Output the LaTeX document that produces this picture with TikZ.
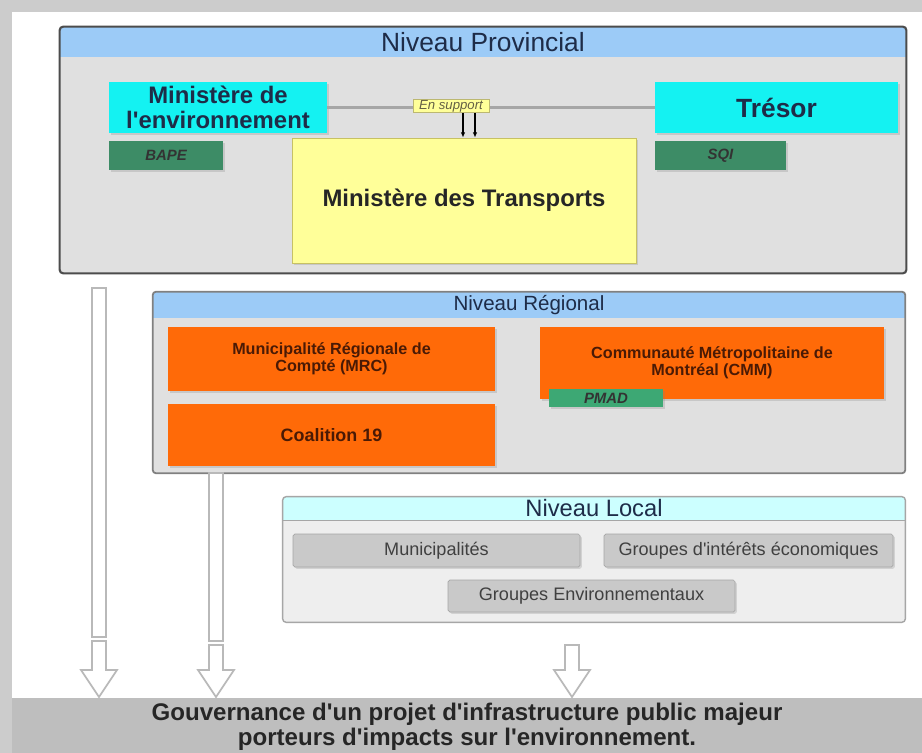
\documentclass[tikz,border=0pt]{standalone}
\usepackage{fontspec}
\setmainfont{Liberation Sans}[Ligatures=TeXOff]
\usepackage{tikz}
\usetikzlibrary{arrows.meta,shadows}

\definecolor{headblue}{HTML}{9CCBF7}
\definecolor{headcyan}{HTML}{CCFFFF}
\definecolor{bodygray}{HTML}{E0E0E0}
\definecolor{bodylight}{HTML}{EEEEEE}
\definecolor{cyanbox}{HTML}{14F2F2}
\definecolor{greenbox}{HTML}{3D8C66}
\definecolor{greenpmad}{HTML}{3DA874}
\definecolor{yellowbox}{HTML}{FFFF99}
\definecolor{orangebox}{HTML}{FF6A08}
\definecolor{graybox}{HTML}{C9C9C9}
\definecolor{bandgray}{HTML}{BEBEBE}
\definecolor{navytext}{HTML}{1E2C48}
\definecolor{browntext}{HTML}{4A1A05}

\begin{document}
\begin{tikzpicture}[x=0.02cm,y=-0.02cm]
\tikzset{sz/.style 2 args = {minimum width=#1*0.02cm,minimum height=#2*0.02cm}}
\tikzset{panel/.style = {rectangle,inner sep=0pt}}
\tikzset{head/.style = {rectangle,inner sep=0pt,text=navytext}}
\tikzset{rim/.style = {line width=1.2pt,rounded corners=2pt}}
\tikzset{box/.style = {rectangle,inner sep=1pt,align=center,drop shadow={shadow xshift=1pt,shadow yshift=-1pt,opacity=0.25}}}
\tikzset{ministry/.style = {box,fill=cyanbox,text=navytext,font=\bfseries\fontsize{13.6}{14.5}\selectfont}}
\tikzset{agency/.style = {box,fill=greenbox,text=black!80,font=\bfseries\itshape\fontsize{8.5}{9}\selectfont}}
\tikzset{regional/.style = {box,fill=orangebox,text=browntext,font=\bfseries\fontsize{9.2}{9.6}\selectfont}}
\tikzset{localbox/.style = {box,draw=gray!70,fill=graybox,text=black!75,rounded corners=1pt,font=\fontsize{10.3}{11}\selectfont}}
\tikzset{hollow/.style = {draw=gray!55,fill=white,line width=1pt}}
\tikzset{edge/.style = {-{Latex[length=3pt,width=2.5pt]},black,line width=0.6pt}}
\useasboundingbox (0,0) rectangle (922,753);
% background
\fill[gray!40] (0,0) rectangle (922,753);
\fill[white] (12,12) rectangle (922,753);
% provincial level
\node[panel,fill=bodygray,sz={846}{246}] (prov) at (483,150) {};
\node[head,fill=headblue,sz={846}{30},font=\fontsize{15}{16}\selectfont] (provhead) at (483,42) {Niveau Provincial};
\draw[rim,draw=black!70] (prov.north west) rectangle (prov.south east);
\node[ministry,sz={218}{51}] (env) at (218,107.5) {Ministère de\\l'environnement};
\node[ministry,sz={243}{51},font=\bfseries\fontsize{15}{16}\selectfont] (tresor) at (776.5,107.5) {Trésor};
\node[agency,sz={114}{29}] (bape) at (166,155.5) {BAPE};
\node[agency,sz={131}{29}] (sqi) at (720.5,155.5) {SQI};
\node[box,fill=yellowbox,draw=yellow!50!gray,sz={344}{125},text=black!85,font=\bfseries\fontsize{13.6}{14}\selectfont] (transp) at (464,200.5) {Ministère des Transports};
\draw[gray!70,line width=2pt] (env) -- (tresor);
\node[rectangle,fill=yellowbox,draw=yellow!40!gray,inner sep=0pt,sz={76}{13},text=black!70!yellow,font=\itshape\fontsize{7.5}{8}\selectfont] (support) at (451,106) {En support};
\coordinate (sa) at (463,113);
\coordinate (sb) at (475,113);
\draw[edge] (sa) -- (sa |- transp.north);
\draw[edge] (sb) -- (sb |- transp.north);
% regional level
\node[panel,fill=bodygray,sz={752}{181}] (reg) at (529,382.5) {};
\node[head,fill=headblue,sz={752}{26},font=\fontsize{11.7}{12.5}\selectfont] (reghead) at (529,305) {Niveau Régional};
\draw[rim,draw=black!50,line width=1pt] (reg.north west) rectangle (reg.south east);
\node[regional,sz={327}{64}] (mrc) at (331.5,359) {Municipalité Régionale de\\Compté (MRC)};
\node[regional,sz={327}{62},font=\bfseries\fontsize{10.2}{11}\selectfont] (coal) at (331.5,435) {Coalition 19};
\node[regional,sz={344}{72}] (cmm) at (712,363) {Communauté Métropolitaine de\\Montréal (CMM)};
\node[agency,fill=greenpmad,sz={114}{18},inner sep=0pt] (pmad) at (606,398) {PMAD};
% local level
\node[panel,fill=bodylight,sz={622}{125}] (loc) at (594,559.5) {};
\node[head,fill=headcyan,sz={622}{23},font=\fontsize{13.5}{14}\selectfont] (lochead) at (594,508.5) {Niveau Local};
\draw[rim,draw=black!35,line width=0.8pt] (loc.north west) rectangle (loc.south east);
\draw[black!35,line width=0.8pt] (lochead.south west) -- (lochead.south east);
\node[localbox,sz={287}{33}] (muni) at (436.5,550.5) {Municipalités};
\node[localbox,sz={289}{33}] (econ) at (748.5,550.5) {Groupes d'intérêts économiques};
\node[localbox,sz={287}{32}] (envgr) at (591.5,596) {Groupes Environnementaux};
% governance band
\node[rectangle,fill=bandgray,sz={910}{53},align=center,text=black!85,font=\bfseries\fontsize{13.7}{14}\selectfont] (gouv) at (467,727) {Gouvernance d'un projet d'infrastructure public majeur\\porteurs d'impacts sur l'environnement.};
% block arrows
\draw[hollow] (92,288) rectangle (106,637);
\draw[hollow] (209,473) rectangle (223,641);
\foreach \x/\t in {99/641,216/645,572/645}
  \draw[hollow] (\x-7,\t) -- (\x+7,\t) -- (\x+7,670) -- (\x+18,670) -- (\x,697)
    -- (\x-18,670) -- (\x-7,670) -- cycle;
\end{tikzpicture}
\end{document}
